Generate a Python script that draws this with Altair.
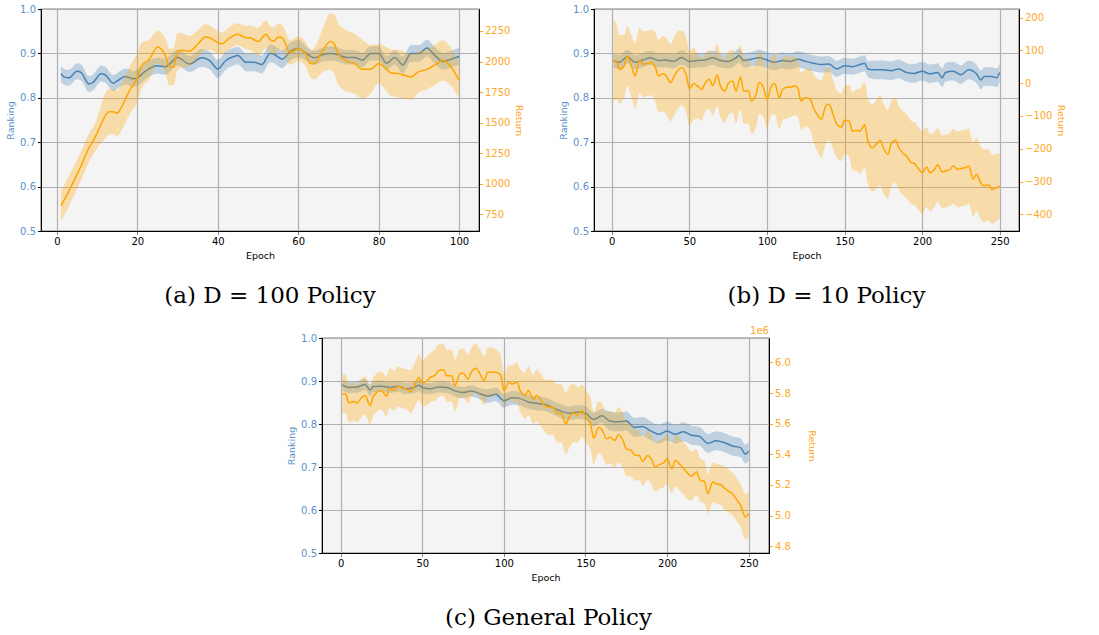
import altair as alt
import pandas as pd

# ---------------- Panel (a): D = 100 policy ----------------
a_rank_ep = [1,2,3,5,6,8,9,11,12,14,15,17,19,20,22,25,27,28,30,33,36,38,40,42,44,45,47,49,51,53,54,56,58,60,62,64,66,68,70,72,74,76,78,80,82,84,86,88,90,92,94,96,98,100]
a_rank = [0.854,0.846,0.845,0.860,0.857,0.831,0.835,0.854,0.852,0.833,0.838,0.848,0.843,0.845,0.860,0.872,0.870,0.876,0.891,0.876,0.890,0.884,0.865,0.884,0.893,0.895,0.880,0.880,0.875,0.900,0.898,0.887,0.904,0.911,0.900,0.890,0.897,0.900,0.897,0.891,0.891,0.885,0.900,0.900,0.878,0.891,0.874,0.900,0.900,0.912,0.895,0.882,0.887,0.893]
a_rank_sd = [0.018]*20 + [0.02]*14 + [0.016]*12 + [0.019]*8

a_ret_ep = [1,3,5,6,8,9,11,12,13,14,15,16,18,20,21,23,25,27,28,29,30,31,33,35,37,38,40,41,43,45,47,48,50,52,53,54,55,56,58,60,62,63,64,66,68,69,70,72,74,76,78,80,82,83,85,87,88,90,92,94,96,97,98,100]
a_ret = [818,941,1077,1145,1295,1350,1486,1555,1590,1590,1576,1623,1759,1868,1964,2018,2119,2045,1955,1955,2081,2092,2086,2141,2201,2195,2155,2146,2195,2223,2195,2195,2163,2223,2180,2168,2201,2195,2073,2105,2054,1983,1983,2086,2163,2141,2059,2005,1983,1936,1936,1983,1936,1909,1901,1882,1874,1917,1936,1972,2010,1991,1955,1846]
a_ret_sd = [125,125,120,118,115,112,150,185,185,185,188,190,195,200,190,160,135,140,150,150,150,140,125,115,105,100,92,90,90,90,95,100,115,115,112,110,108,105,100,100,100,110,130,175,230,245,250,250,245,240,200,160,180,190,195,190,185,170,165,165,165,160,155,150]

# ---------------- Panel (b): D = 10 policy ----------------
b_rank_ep = [1,5,10,15,20,25,30,35,40,45,50,55,60,65,70,75,80,82,85,90,95,100,105,110,115,120,125,130,135,140,145,150,155,160,163,165,170,175,180,185,190,195,200,205,210,213,215,220,225,230,235,238,240,245,248,250]
b_rank = [0.884,0.880,0.893,0.880,0.885,0.890,0.884,0.885,0.882,0.891,0.882,0.884,0.885,0.890,0.884,0.882,0.890,0.895,0.884,0.887,0.890,0.885,0.880,0.884,0.882,0.887,0.882,0.878,0.875,0.876,0.865,0.872,0.870,0.875,0.878,0.865,0.863,0.863,0.861,0.865,0.857,0.855,0.860,0.854,0.857,0.845,0.857,0.860,0.852,0.863,0.854,0.840,0.848,0.848,0.845,0.857]
b_rank_sd = [0.016]*20 + [0.018]*16 + [0.021]*20

b_ret_ep = [1,3,5,8,10,13,15,18,20,23,25,28,30,33,35,38,40,43,45,48,50,53,55,58,60,63,65,68,70,73,75,78,80,83,85,88,90,93,95,98,100,103,105,108,110,113,115,118,120,122,125,128,130,133,135,138,140,143,145,148,150,153,155,158,160,163,165,168,170,173,175,178,180,183,185,188,190,193,195,198,200,203,205,208,210,213,215,218,220,223,225,228,230,233,235,238,240,243,245,248,250]
b_ret = [70,66,42,53,83,47,22,70,58,60,
         63,50,22,29,22,2,19,42,47,25,
         -16,-1,-8,-19,-1,12,-8,25,-8,-24,
         -1,7,-24,19,-24,-22,-54,-34,2,-16,
         -49,-8,-1,-44,-19,-12,-12,-8,-16,-54,
         -44,-49,-75,-100,-110,-69,-64,-100,-125,-134,
         -113,-115,-146,-144,-146,-127,-176,-197,-189,-174,
         -197,-217,-186,-174,-197,-215,-222,-242,-245,-263,
         -273,-256,-273,-263,-249,-270,-268,-263,-253,-263,
         -260,-258,-253,-293,-278,-306,-313,-310,-324,-319,
         -313]
b_ret_sd = [125,115,105,95,92,95,100,100,100,100,
            100,105,110,115,115,118,118,118,115,114,
            114,110,100,95,87,90,92,95,97,97,
            97,97,98,100,100,100,100,100,95,90,
            87,90,92,95,95,95,92,90,88,87,
            87,95,105,112,118,115,110,105,103,103,
            103,110,118,125,131,131,131,133,135,137,
            137,135,132,130,128,128,128,127,127,126,
            126,122,118,115,112,111,111,112,114,115,
            116,115,114,113,112,111,111,108,105,102,
            100]

# ---------------- Panel (c): general policy (Return in 1e6) ----------------
c_rank_ep = [1,5,10,15,18,20,25,30,35,40,45,48,50,55,60,65,70,75,80,85,90,95,100,105,110,115,120,125,130,135,140,145,150,155,160,165,170,175,180,185,190,195,200,205,210,215,220,225,230,235,240,245,248,250]
c_rank = [0.891,0.885,0.886,0.892,0.879,0.887,0.888,0.885,0.888,0.882,0.885,0.890,0.885,0.882,0.886,0.885,0.877,0.873,0.877,0.871,0.865,0.869,0.854,0.861,0.859,0.851,0.848,0.846,0.838,0.830,0.825,0.828,0.825,0.811,0.819,0.807,0.805,0.807,0.792,0.794,0.784,0.776,0.784,0.776,0.782,0.774,0.771,0.755,0.761,0.757,0.749,0.745,0.730,0.737]
c_rank_sd = [0.013]*20 + [0.016]*15 + [0.022]*19

c_ret_ep = [1,3,5,8,10,13,15,18,20,25,28,30,33,35,38,40,43,45,48,50,53,55,58,60,63,65,68,70,73,75,78,80,83,85,88,90,93,95,98,100,103,105,108,110,113,115,118,120,123,125,128,130,133,135,138,140,143,145,148,150,153,155,158,160,163,165,168,170,173,175,178,180,183,185,188,190,193,195,198,200,203,205,208,210,213,215,218,220,223,225,228,230,233,235,238,240,243,245,248,250]
c_ret = [5.794,5.794,5.735,5.744,5.735,5.772,5.783,5.718,5.779,5.816,
         5.779,5.831,5.816,5.844,5.831,5.826,5.809,5.844,5.902,5.865,
         5.880,5.902,5.918,5.946,5.952,5.913,5.913,5.848,5.924,5.931,
         5.891,5.935,5.961,5.931,5.880,5.935,5.935,5.935,5.918,5.816,
         5.870,5.859,5.870,5.816,5.783,5.816,5.757,5.783,5.750,5.718,
         5.707,5.707,5.664,5.670,5.599,5.642,5.670,5.657,5.685,5.648,
         5.605,5.505,5.577,5.562,5.501,5.512,5.490,5.527,5.490,5.436,
         5.425,5.397,5.392,5.353,5.392,5.375,5.316,5.332,5.345,5.371,
         5.306,5.360,5.332,5.310,5.273,5.258,5.284,5.236,5.219,5.143,
         5.219,5.208,5.201,5.180,5.158,5.143,5.099,5.067,4.991,5.013]
c_ret_sd = [0.125]*10 + [0.13,0.13,0.13,0.13,0.13,0.13,0.14,0.14,0.15,0.15,
            0.16,0.16,0.17,0.17,0.17,0.17,0.17,0.17,0.16,0.16,
            0.16,0.16,0.16,0.16,0.16,0.16,0.16,0.15,0.13,0.11,
            0.11,0.12,0.13,0.14,0.15,0.16,0.16,0.17,0.17,0.17,
            0.18,0.18,0.19,0.19,0.20,0.20,0.19,0.18,0.17,0.17,
            0.17,0.17,0.17,0.17,0.17,0.17,0.18,0.18,0.18,0.18,
            0.17,0.17,0.16,0.16,0.16,0.16,0.16,0.16,0.16,0.16,
            0.16,0.17,0.17,0.17,0.17,0.16,0.15,0.14,0.14,0.13,
            0.13,0.13,0.13,0.14,0.14,0.14,0.14,0.14,0.15,0.15]

captions = ["(a) D = 100 Policy", "(b) D = 10 Policy", "(c) General Policy"]

BLUE = "steelblue"
ORANGE = "orange"
BLUE_TXT = "#5b90c8"
ORANGE_TXT = "#ffa726"


def frame(ep, mean, sd):
    return pd.DataFrame({
        "epoch": ep,
        "mean": mean,
        "lo": [m - s for m, s in zip(mean, sd)],
        "hi": [m + s for m, s in zip(mean, sd)],
    })


def panel(rank_df, ret_df, xdom, xticks, rdom, rticks, rfmt, w, h, caption, dx,
          offset_e6=False, rtitle_pad=4):
    x = alt.X("epoch:Q", scale=alt.Scale(domain=xdom, nice=False, zero=False),
              axis=alt.Axis(values=xticks, format="d", title="Epoch", grid=True,
                            gridColor="#b0b0b0", gridWidth=1.2))
    ls = alt.Scale(domain=[0.5, 1.0], nice=False, zero=False)
    laxis = alt.Axis(values=[0.5, 0.6, 0.7, 0.8, 0.9, 1.0], format=".1f", title="Ranking",
                     orient="left", grid=True, gridColor="#b0b0b0", gridWidth=1.2,
                     labelColor=BLUE_TXT, titleColor=BLUE_TXT, tickColor="black")
    rs = alt.Scale(domain=rdom, nice=False, zero=False)
    raxis = alt.Axis(values=rticks, format=rfmt, title="Return", orient="right", grid=False,
                     labelColor=ORANGE_TXT, titleColor=ORANGE_TXT, tickColor=ORANGE_TXT,
                     titlePadding=rtitle_pad)

    b_band = alt.Chart(rank_df).mark_area(color=BLUE, opacity=0.3, interpolate="monotone").encode(
        x=x, y=alt.Y("lo:Q", scale=ls, axis=laxis), y2="hi:Q")
    b_line = alt.Chart(rank_df).mark_line(color=BLUE, strokeWidth=1.5, interpolate="monotone").encode(
        x=x, y=alt.Y("mean:Q", scale=ls, axis=laxis))
    o_band = alt.Chart(ret_df).mark_area(color=ORANGE, opacity=0.3, interpolate="monotone").encode(
        x=x, y=alt.Y("lo:Q", scale=rs, axis=raxis), y2="hi:Q")
    o_line = alt.Chart(ret_df).mark_line(color=ORANGE, strokeWidth=1.5, interpolate="monotone").encode(
        x=x, y=alt.Y("mean:Q", scale=rs, axis=raxis))
    layers = [alt.layer(b_band, b_line), alt.layer(o_band, o_line)]
    if offset_e6:
        txt = alt.Chart(pd.DataFrame({"t": ["1e6"]})).mark_text(
            color=ORANGE_TXT, fontSize=10, align="right", baseline="middle", font="DejaVu Sans").encode(
            text="t:N", x=alt.value(w), y=alt.value(-7))
        layers.append(txt)
    return alt.layer(*layers).resolve_scale(y="independent").properties(
        width=w, height=h,
        title=alt.TitleParams(caption, orient="bottom", anchor="middle", frame="group",
                              font="DejaVu Serif", fontSize=23, fontWeight="normal",
                              color="black", offset=25, dx=dx))


pa = panel(frame(a_rank_ep, a_rank, a_rank_sd), frame(a_ret_ep, a_ret, a_ret_sd),
           [-3.95, 104.95], [0, 20, 40, 60, 80, 100], [613, 2430],
           [750, 1000, 1250, 1500, 1750, 2000, 2250], "d", 438, 222, captions[0], 10)
pb = panel(frame(b_rank_ep, b_rank, b_rank_sd), frame(b_ret_ep, b_ret, b_ret_sd),
           [-11.45, 262.45], [0, 50, 100, 150, 200, 250], [-451, 226.5],
           [-400, -300, -200, -100, 0, 100, 200], "d", 425, 222, captions[1], 20)
pc = panel(frame(c_rank_ep, c_rank, c_rank_sd), frame(c_ret_ep, c_ret, c_ret_sd),
           [-11.45, 262.45], [0, 50, 100, 150, 200, 250], [4.756, 6.159],
           [4.8, 5.0, 5.2, 5.4, 5.6, 5.8, 6.0], ".1f", 447, 215, captions[2], 3,
           offset_e6=True, rtitle_pad=16)

spacer = alt.Chart(pd.DataFrame({"v": [0]})).mark_point(opacity=0).properties(
    width=244, height=10, view=alt.ViewBackground(opacity=0, strokeOpacity=0, fillOpacity=0))

row1 = alt.hconcat(pa, pb, spacing=32)
row2 = alt.hconcat(spacer, pc, spacing=0)
chart = alt.vconcat(row1, row2, spacing=16).properties(
    padding={"left": 4, "top": 3, "right": 0, "bottom": 0},
    background="white",
).configure_view(fill="#f4f4f4", stroke="black", strokeWidth=1.2).configure_axis(
    labelFont="DejaVu Sans", titleFont="DejaVu Sans", labelFontSize=10, titleFontSize=9.5,
    titleFontWeight="normal", tickSize=3.5, labelPadding=2, titlePadding=4,
    domainColor="black", labelColor="black", titleColor="black"
).configure_axisY(labelColor=BLUE_TXT)

chart.save("out.html", embed_options={"renderer": "svg", "actions": False})
